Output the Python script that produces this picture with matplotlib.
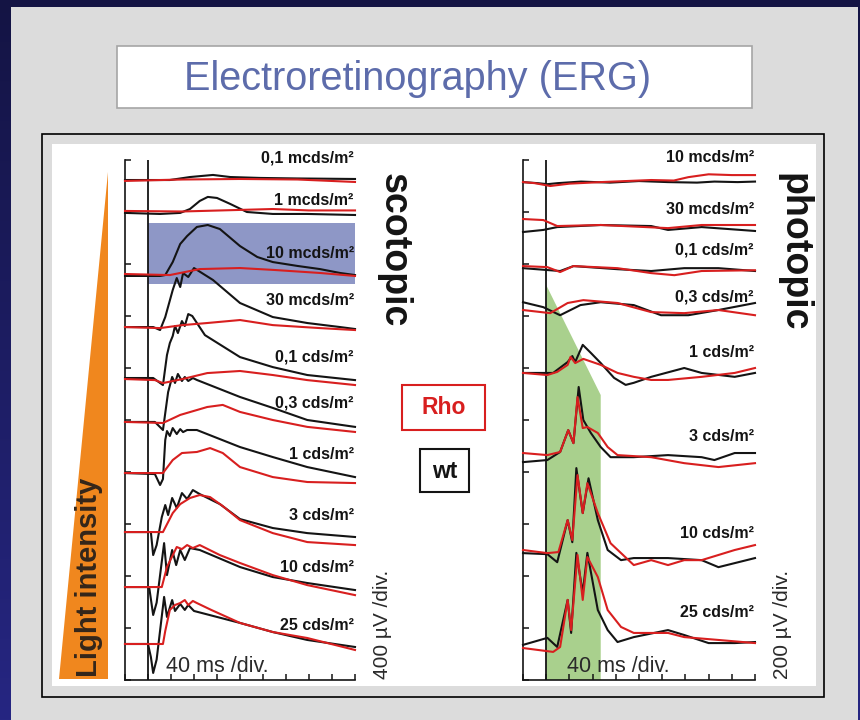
import numpy as np
import matplotlib.pyplot as plt
from matplotlib.patches import Rectangle, Polygon
from matplotlib.colors import LinearSegmentedColormap

plt.rcParams['font.family'] = ['Liberation Sans', 'DejaVu Sans']

# ---- scotopic series: time (ms), amplitude (uV) relative to the trace baseline ----
scot_labels = ['0,1 mcds/m²', '1 mcds/m²', '10 mcds/m²', '30 mcds/m²', '0,1 cds/m²',
               '0,3 cds/m²', '1 cds/m²', '3 cds/m²', '10 cds/m²', '25 cds/m²']
scot_base = [3854, 3608, 3123, 2715, 2315, 1985, 1592, 1138, 715, 277]
scot_label_y = [4015, 3692, 3277, 2923, 2485, 2131, 1731, 1269, 869, 423]

scot_wt = [
    ([0, 78, 113, 153, 183, 235, 300, 400], [-8, -8, 15, 31, 15, 8, 4, 0]),
    ([0, 61, 96, 113, 130, 144, 160, 183, 212, 257, 317, 400],
     [-15, -23, -15, 15, 77, 108, 100, 54, -8, -23, -23, -31]),
    ([0, 61, 70, 83, 96, 108, 125, 144, 165, 200, 230, 257, 300, 339, 374, 400],
     [-15, -15, -8, 92, 231, 292, 362, 377, 346, 215, 131, 92, 62, 38, 8, -8]),
    ([0, 49, 61, 70, 83, 90, 96, 101, 110, 120, 153, 200, 257, 317, 374, 400],
     [0, 0, -23, 77, 285, 377, 308, 415, 385, 454, 362, 185, 77, 31, 0, -15]),
    ([0, 49, 66, 73, 78, 83, 87, 92, 99, 104, 110, 117, 139, 200, 257, 317, 400],
     [8, 8, -46, 185, 277, 331, 408, 354, 446, 408, 500, 485, 338, 169, 92, 31, -8]),
    ([0, 52, 66, 75, 82, 87, 92, 99, 104, 110, 118, 125, 200, 257, 317, 400],
     [0, 0, -62, 230, 346, 300, 369, 315, 346, 315, 338, 323, 192, 108, 15, -38]),
    ([0, 52, 61, 66, 70, 73, 78, 83, 90, 96, 101, 108, 125, 200, 257, 317, 400],
     [0, -8, -92, -46, 254, 323, 285, 346, 300, 338, 315, 331, 331, 200, 123, 46, -31]),
    ([0, 45, 49, 55, 64, 70, 75, 82, 90, 99, 108, 118, 130, 165, 200, 257, 317, 400],
     [0, 0, -177, -100, 115, 208, 131, 262, 185, 300, 254, 323, 292, 215, 100, 31, -8, -38]),
    ([0, 42, 49, 55, 68, 73, 82, 89, 96, 104, 113, 130, 200, 257, 317, 400],
     [0, 0, -215, -120, 338, 92, 285, 169, 285, 208, 300, 285, 154, 77, 31, -23]),
    ([0, 40, 45, 49, 55, 68, 73, 82, 87, 96, 104, 110, 120, 140, 200, 257, 317, 400],
     [0, 0, -100, -223, -120, 362, 208, 338, 254, 308, 262, 300, 254, 231, 162, 92, 31, -23]),
]
scot_rho = [
    ([0, 100, 200, 300, 400], [-15, -4, 0, -4, -23]),
    ([0, 100, 200, 257, 320, 400], [0, -4, 8, 15, 4, 4]),
    ([0, 78, 130, 200, 260, 339, 400], [0, -8, 38, 46, 31, 8, -15]),
    ([0, 61, 100, 143, 200, 257, 339, 400], [0, -8, 15, 31, 54, 15, -8, -23]),
    ([0, 52, 66, 100, 143, 200, 257, 317, 400], [0, -8, -31, 0, 46, 62, 31, -8, -46]),
    ([0, 66, 96, 143, 170, 200, 257, 317, 400], [0, -8, 54, 115, 131, 77, 15, -38, -77]),
    ([0, 66, 83, 99, 125, 148, 170, 200, 257, 317, 400],
     [0, 0, 100, 154, 162, 192, 154, 46, -31, -69, -77]),
    ([0, 66, 83, 96, 113, 130, 148, 170, 200, 257, 317, 400],
     [0, 0, 146, 215, 262, 285, 269, 200, 92, -8, -77, -100]),
    ([0, 64, 73, 90, 99, 108, 118, 130, 165, 200, 257, 317, 400],
     [0, 0, 154, 308, 292, 323, 300, 323, 246, 185, 92, 15, -62]),
    ([0, 66, 70, 78, 87, 96, 104, 110, 118, 125, 150, 200, 257, 317, 400],
     [0, 0, 100, 262, 300, 315, 338, 300, 331, 315, 262, 162, 92, 46, -46]),
]

# ---- photopic series ----
phot_labels = ['10 mcds/m²', '30 mcds/m²', '0,1 cds/m²', '0,3 cds/m²',
               '1 cds/m²', '3 cds/m²', '10 cds/m²', '25 cds/m²']
phot_base = [1915, 1750, 1588, 1438, 1181, 865, 488, 127]
phot_label_y = [2008, 1808, 1654, 1473, 1258, 935, 565, 258]

phot_wt = [
    ([0, 25, 42, 60, 100, 150, 200, 250, 300, 330, 370, 400],
     [0, -4, -8, -4, 2, -2, 4, 0, -2, 2, 0, 2]),
    ([0, 35, 59, 134, 221, 250, 308, 400], [-27, -19, -8, 0, -4, -19, -8, -23]),
    ([0, 64, 87, 163, 221, 278, 337, 400], [-4, -15, 4, -8, -15, -4, -4, -15]),
    ([0, 35, 64, 99, 134, 191, 238, 285, 337, 400], [15, -4, -35, 4, 15, 4, -35, -35, -15, 12]),
    ([0, 52, 77, 85, 90, 103, 117, 134, 157, 177, 191, 221, 278, 308, 365, 400],
     [0, 0, 42, 65, 42, 108, 77, 38, -19, -46, -38, -15, 19, 0, -15, 0]),
    ([0, 42, 64, 78, 87, 96, 104, 117, 134, 151, 191, 250, 308, 330, 365, 400],
     [-27, -19, 12, 96, 46, 262, 135, 85, 31, -8, -8, 0, -8, -19, 8, 8]),
    ([0, 42, 59, 77, 85, 92, 103, 113, 129, 146, 169, 191, 250, 308, 337, 400],
     [0, -4, -35, 127, 42, 327, 154, 288, 127, 12, -27, -19, -19, -27, -54, -19]),
    ([0, 42, 59, 77, 83, 92, 103, 111, 129, 146, 163, 191, 250, 278, 320, 365, 400],
     [8, 35, 0, 181, 54, 362, 208, 362, 142, 65, 19, 38, 65, 46, 15, 15, 19]),
]
phot_rho = [
    ([0, 20, 47, 80, 134, 221, 260, 285, 320, 360, 400], [0, -4, -15, -6, 0, 8, 6, 19, 30, 27, 27]),
    ([0, 35, 59, 134, 250, 308, 400], [23, 19, -4, 0, -12, 0, 0]),
    ([0, 42, 64, 87, 163, 221, 261, 308, 400], [4, 0, -19, 4, -4, -23, -31, -15, -12]),
    ([0, 47, 77, 104, 163, 221, 278, 337, 400], [-15, -27, 12, 23, 12, -23, -27, -15, -35]),
    ([0, 42, 59, 77, 82, 90, 104, 134, 163, 191, 221, 250, 308, 365, 400],
     [0, -8, 4, 31, 62, 38, 54, 31, 0, -15, -27, -27, -15, 0, 19]),
    ([0, 42, 64, 78, 87, 94, 103, 111, 129, 146, 163, 221, 278, 337, 400],
     [8, 0, 12, 96, 46, 223, 104, 108, 85, 31, 0, -8, -31, -46, -31]),
    ([0, 42, 61, 77, 85, 94, 103, 111, 129, 151, 191, 221, 250, 278, 308, 365, 400],
     [12, 0, 4, 127, 50, 300, 154, 269, 154, 38, -46, -27, -46, -27, -27, 12, 31]),
    ([0, 52, 64, 77, 83, 94, 103, 111, 129, 146, 169, 191, 250, 278, 337, 400],
     [-4, -19, 0, 181, 65, 354, 181, 346, 269, 142, 77, 54, 54, 38, 27, 15]),
]

BLACK = '#141414'
RED = '#d81f1f'
W, H = 860, 720

fig = plt.figure(figsize=(8.6, 7.2), dpi=100)
bg = fig.add_axes([0, 0, 1, 1])
bg.set_xlim(0, W)
bg.set_ylim(H, 0)
bg.axis('off')

# slide background
navy = LinearSegmentedColormap.from_list('navy', ['#141444', '#262682'])
bg.imshow(np.linspace(0, 1, 256).reshape(-1, 1), cmap=navy,
          extent=[0, W, H, 0], aspect='auto', zorder=0)
bg.add_patch(Rectangle((11, 7), 847, 720, facecolor='#dcdcdc', edgecolor='none', zorder=1))
bg.add_patch(Rectangle((117, 46), 635, 62, facecolor='white', edgecolor='#a5a5a5', lw=1.2, zorder=2))
bg.text(418, 79, 'Electroretinography (ERG)', ha='center', va='center',
        fontsize=28.5, color='#5d6cab', zorder=3)
bg.add_patch(Rectangle((42, 134), 782, 563, facecolor='#dcdcdc', edgecolor='black', lw=1.2, zorder=2))
bg.add_patch(Rectangle((52, 144), 764, 542, facecolor='white', edgecolor='none', zorder=3))

# light-intensity wedge
bg.add_patch(Polygon([(108, 172), (108, 679), (59, 679)], closed=True,
                     facecolor='#f0871e', edgecolor='none', zorder=4))
bg.text(89, 677, 'Light intensity', rotation=90, ha='center', va='bottom',
        fontsize=21, fontweight='bold', color='#33261a', zorder=5)

# genotype keys
bg.add_patch(Rectangle((402, 385), 83, 45, facecolor='white', edgecolor=RED, lw=1.5, zorder=4))
bg.text(443.5, 408, 'Rho', ha='center', va='center', fontsize=16.5,
        fontweight='bold', color=RED, zorder=5)
bg.add_patch(Rectangle((420, 449), 49, 43, facecolor='white', edgecolor=BLACK, lw=1.5, zorder=4))
bg.text(444.5, 471, 'wt', ha='center', va='center', fontsize=16.5,
        fontweight='bold', color=BLACK, zorder=5)

# panel titles and scale notes
bg.text(394, 250, 'scotopic', rotation=270, ha='center', va='center',
        fontsize=27, fontweight='bold', color=BLACK, zorder=5)
bg.text(794, 252, 'photopic', rotation=270, ha='center', va='center',
        fontsize=27, fontweight='bold', color=BLACK, zorder=5)
bg.text(383, 679, '400 µV /div.', rotation=90, ha='center', va='bottom',
        fontsize=15, color='#2a2a2a', zorder=5)
bg.text(782, 679, '200 µV /div.', rotation=90, ha='center', va='bottom',
        fontsize=15, color='#2a2a2a', zorder=5)


def trace_axes(left_px, right_px, ymax):
    ax = fig.add_axes([left_px / W, (H - 680) / H, (right_px - left_px) / W, 520 / H])
    ax.set_zorder(2)
    ax.patch.set_visible(False)
    ax.set_xlim(0, 400)
    ax.set_ylim(0, ymax)
    for side in ['top', 'right']:
        ax.spines[side].set_visible(False)
    for side in ['left', 'bottom']:
        ax.spines[side].set_linewidth(1.2)
        ax.spines[side].set_color(BLACK)
    ax.set_xticks(np.arange(0, 401, 40))
    ax.set_yticks(np.linspace(0, ymax, 11))
    ax.tick_params(direction='in', length=4, width=1.1, color=BLACK,
                   labelbottom=False, labelleft=False)
    ax.axvline(40, color=BLACK, lw=1.3, zorder=3)
    return ax


def draw_traces(ax, base, wt, rho, labels, label_y):
    for b, (tw, vw), (tr, vr) in zip(base, wt, rho):
        ax.plot(tw, np.array(vw) + b, color=BLACK, lw=1.5, zorder=4, clip_on=False)
        ax.plot(tr, np.array(vr) + b, color=RED, lw=1.5, zorder=5, clip_on=False)
    for lab, ly in zip(labels, label_y):
        ax.text(398, ly, lab, ha='right', va='center', fontsize=11.5,
                fontweight='bold', color=BLACK, clip_on=False)


ax_s = trace_axes(125, 355, 4000)
ax_s.add_patch(Rectangle((40, 3046), 360, 469, facecolor='#8e97c6',
                         edgecolor='none', zorder=1))
draw_traces(ax_s, scot_base, scot_wt, scot_rho, scot_labels, scot_label_y)

ax_p = trace_axes(523, 755, 2000)
ax_p.add_patch(Polygon([(40, 0), (40, 1519), (134, 1096), (134, 0)], closed=True,
                       facecolor='#a9d08d', edgecolor='none', zorder=1))
draw_traces(ax_p, phot_base, phot_wt, phot_rho, phot_labels, phot_label_y)

# time scale notes sit above the shaded window
for ax, x0 in [(ax_s, 166), (ax_p, 567)]:
    ax.text(x0, 672, '40 ms /div.', ha='left', va='baseline', fontsize=15.5,
            color='#2a2a2a', transform=bg.transData, zorder=6, clip_on=False)

fig.savefig('out.png', dpi=100)
